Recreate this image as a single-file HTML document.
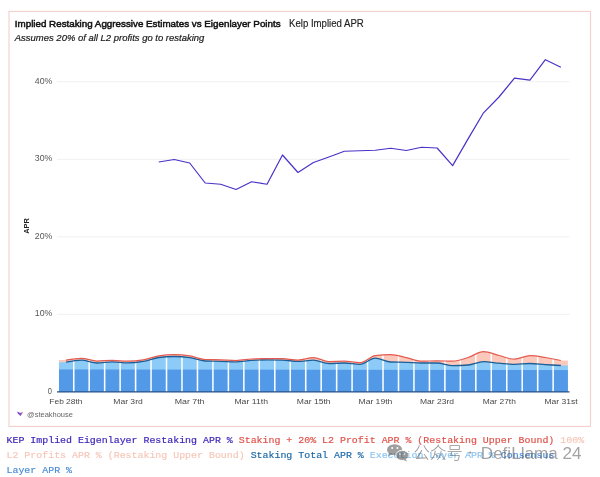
<!DOCTYPE html>
<html><head><meta charset="utf-8">
<style>
html,body{margin:0;padding:0;background:#fff;width:600px;height:477px;overflow:hidden}
svg{position:absolute;left:0;top:0;display:block;will-change:transform}
.t{font-family:"Liberation Sans",sans-serif}
.m{font-family:"Liberation Mono",monospace}
.cjk{font-family:"Liberation Sans","Noto Sans CJK SC",sans-serif}
</style></head><body>
<svg width="600" height="477" viewBox="0 0 600 477">
<rect x="9" y="11.4" width="581.5" height="415" fill="#fff" stroke="#f3d0cd" stroke-width="1.15"/>
<text class="t" x="14.8" y="26.8" font-size="9.7" fill="#111" stroke="#111" stroke-width="0.5" textLength="265.8" lengthAdjust="spacingAndGlyphs">Implied Restaking Aggressive Estimates vs Eigenlayer Points</text>
<text class="t" x="289" y="26.8" font-size="10" fill="#1e1e1e" stroke="#1e1e1e" stroke-width="0.15" textLength="74.8" lengthAdjust="spacingAndGlyphs">Kelp Implied APR</text>
<text class="t" x="14.8" y="40.7" font-size="9.7" font-style="italic" fill="#1a1a1a" stroke="#1a1a1a" stroke-width="0.2" textLength="189.5" lengthAdjust="spacingAndGlyphs">Assumes 20% of all L2 profits go to restaking</text>
<g stroke="#f0f0f0" stroke-width="1"><line x1="57" y1="314.30" x2="569.5" y2="314.30"/><line x1="57" y1="236.80" x2="569.5" y2="236.80"/><line x1="57" y1="159.30" x2="569.5" y2="159.30"/><line x1="57" y1="81.80" x2="569.5" y2="81.80"/></g>
<g class="t" font-size="8.5" fill="#555" text-anchor="end"><text x="52.4" y="316.40" textLength="17.6" lengthAdjust="spacingAndGlyphs">10%</text><text x="52.4" y="238.90" textLength="17.6" lengthAdjust="spacingAndGlyphs">20%</text><text x="52.4" y="161.40" textLength="17.6" lengthAdjust="spacingAndGlyphs">30%</text><text x="52.4" y="83.90" textLength="17.6" lengthAdjust="spacingAndGlyphs">40%</text><text x="52" y="393.90" textLength="4.2" lengthAdjust="spacingAndGlyphs">0</text></g>
<text class="t" transform="translate(29.3,226) rotate(-90)" font-size="8" font-weight="bold" fill="#222" text-anchor="middle" textLength="15.5" lengthAdjust="spacingAndGlyphs">APR</text>
<path d="M59.00,391.80 L59.00,360.10 L65.98,360.10 C71.14,359.20 76.29,358.30 81.45,358.30 C86.60,358.30 91.76,361.00 96.91,361.00 C102.07,361.00 107.22,360.40 112.38,360.40 C117.53,360.40 122.69,361.20 127.84,361.20 C133.00,361.20 138.15,360.68 143.31,359.80 C148.46,358.92 153.62,356.77 158.77,355.90 C163.93,355.03 169.08,354.60 174.24,354.60 C179.39,354.60 184.55,355.08 189.70,355.90 C194.86,356.72 200.01,359.30 205.17,359.50 C210.32,359.70 215.48,359.63 220.63,359.80 C225.79,359.97 230.94,360.50 236.10,360.50 C241.25,360.50 246.41,359.33 251.56,359.00 C256.72,358.67 261.87,358.50 267.03,358.50 C272.18,358.50 277.34,358.57 282.49,358.70 C287.65,358.83 292.80,360.00 297.96,360.00 C303.11,360.00 308.27,357.70 313.42,357.70 C318.58,357.70 323.73,361.50 328.89,361.50 C334.04,361.50 339.20,361.20 344.35,361.20 C349.51,361.20 354.66,362.70 359.82,362.70 C364.97,362.70 370.13,356.50 375.28,355.70 C380.44,354.90 385.59,354.50 390.75,354.50 C395.90,354.50 401.06,356.58 406.21,357.70 C411.37,358.82 416.52,361.20 421.68,361.20 C426.83,361.20 431.99,360.80 437.14,360.80 C442.30,360.80 447.45,361.20 452.61,361.20 C457.76,361.20 462.92,359.08 468.07,357.50 C473.23,355.92 478.38,351.70 483.54,351.70 C488.69,351.70 493.85,354.25 499.00,355.50 C504.16,356.75 509.31,359.20 514.47,359.20 C519.62,359.20 524.78,355.70 529.93,355.70 C535.09,355.70 540.24,356.70 545.40,357.50 C550.55,358.30 555.71,359.40 560.86,360.50 L567.85,360.50 L567.85,391.80 Z" fill="#fbc9bb"/>
<path d="M59.00,391.80 L59.00,362.20 L65.98,362.20 C71.14,361.15 76.29,360.10 81.45,360.10 C86.60,360.10 91.76,363.00 96.91,363.00 C102.07,363.00 107.22,361.90 112.38,361.90 C117.53,361.90 122.69,362.90 127.84,362.90 C133.00,362.90 138.15,362.30 143.31,361.40 C148.46,360.50 153.62,358.17 158.77,357.50 C163.93,356.83 169.08,356.50 174.24,356.50 C179.39,356.50 184.55,356.87 189.70,357.60 C194.86,358.33 200.01,360.80 205.17,361.00 C210.32,361.20 215.48,361.15 220.63,361.30 C225.79,361.45 230.94,361.90 236.10,361.90 C241.25,361.90 246.41,360.57 251.56,360.30 C256.72,360.03 261.87,359.90 267.03,359.90 C272.18,359.90 277.34,359.97 282.49,360.10 C287.65,360.23 292.80,361.40 297.96,361.40 C303.11,361.40 308.27,360.20 313.42,360.20 C318.58,360.20 323.73,363.50 328.89,363.50 C334.04,363.50 339.20,363.00 344.35,363.00 C349.51,363.00 354.66,364.40 359.82,364.40 C364.97,364.40 370.13,358.20 375.28,358.20 C380.44,358.20 385.59,361.80 390.75,362.00 C395.90,362.20 401.06,362.13 406.21,362.30 C411.37,362.47 416.52,363.00 421.68,363.00 C426.83,363.00 431.99,363.00 437.14,363.00 C442.30,363.00 447.45,365.60 452.61,365.60 C457.76,365.60 462.92,365.40 468.07,365.00 C473.23,364.60 478.38,361.70 483.54,361.70 C488.69,361.70 493.85,362.75 499.00,363.20 C504.16,363.65 509.31,364.40 514.47,364.40 C519.62,364.40 524.78,363.50 529.93,363.50 C535.09,363.50 540.24,364.27 545.40,364.60 C550.55,364.93 555.71,365.22 560.86,365.50 L567.85,365.50 L567.85,391.80 Z" fill="#8ccbf8"/>
<g fill="#5299e8"><rect x="59.00" y="369.45" width="15.48" height="22.35"/><rect x="74.47" y="369.47" width="15.48" height="22.33"/><rect x="89.93" y="369.49" width="15.48" height="22.31"/><rect x="105.39" y="369.51" width="15.48" height="22.29"/><rect x="120.86" y="369.52" width="15.48" height="22.28"/><rect x="136.32" y="369.54" width="15.48" height="22.26"/><rect x="151.79" y="369.56" width="15.48" height="22.24"/><rect x="167.25" y="369.58" width="15.48" height="22.22"/><rect x="182.72" y="369.60" width="15.48" height="22.20"/><rect x="198.19" y="369.62" width="15.48" height="22.18"/><rect x="213.65" y="369.64" width="15.48" height="22.16"/><rect x="229.12" y="369.66" width="15.48" height="22.14"/><rect x="244.58" y="369.68" width="15.48" height="22.13"/><rect x="260.04" y="369.69" width="15.48" height="22.11"/><rect x="275.51" y="369.71" width="15.48" height="22.09"/><rect x="290.98" y="369.73" width="15.48" height="22.07"/><rect x="306.44" y="369.75" width="15.48" height="22.05"/><rect x="321.90" y="369.77" width="15.48" height="22.03"/><rect x="337.37" y="369.79" width="15.48" height="22.01"/><rect x="352.83" y="369.81" width="15.48" height="21.99"/><rect x="368.30" y="369.82" width="15.48" height="21.98"/><rect x="383.76" y="369.84" width="15.48" height="21.96"/><rect x="399.23" y="369.86" width="15.48" height="21.94"/><rect x="414.69" y="369.88" width="15.48" height="21.92"/><rect x="430.16" y="369.90" width="15.48" height="21.90"/><rect x="445.62" y="369.92" width="15.48" height="21.88"/><rect x="461.09" y="369.94" width="15.48" height="21.86"/><rect x="476.56" y="369.96" width="15.48" height="21.84"/><rect x="492.02" y="369.97" width="15.48" height="21.83"/><rect x="507.49" y="369.99" width="15.48" height="21.81"/><rect x="522.95" y="370.01" width="15.48" height="21.79"/><rect x="538.41" y="370.03" width="15.48" height="21.77"/><rect x="553.88" y="370.05" width="13.98" height="21.75"/></g>
<g fill="#fff"><rect x="72.97" y="345" width="1.5" height="46.80"/><rect x="88.43" y="345" width="1.5" height="46.80"/><rect x="103.89" y="345" width="1.5" height="46.80"/><rect x="119.36" y="345" width="1.5" height="46.80"/><rect x="134.82" y="345" width="1.5" height="46.80"/><rect x="150.29" y="345" width="1.5" height="46.80"/><rect x="165.75" y="345" width="1.5" height="46.80"/><rect x="181.22" y="345" width="1.5" height="46.80"/><rect x="196.69" y="345" width="1.5" height="46.80"/><rect x="212.15" y="345" width="1.5" height="46.80"/><rect x="227.62" y="345" width="1.5" height="46.80"/><rect x="243.08" y="345" width="1.5" height="46.80"/><rect x="258.54" y="345" width="1.5" height="46.80"/><rect x="274.01" y="345" width="1.5" height="46.80"/><rect x="289.48" y="345" width="1.5" height="46.80"/><rect x="304.94" y="345" width="1.5" height="46.80"/><rect x="320.40" y="345" width="1.5" height="46.80"/><rect x="335.87" y="345" width="1.5" height="46.80"/><rect x="351.33" y="345" width="1.5" height="46.80"/><rect x="366.80" y="345" width="1.5" height="46.80"/><rect x="382.26" y="345" width="1.5" height="46.80"/><rect x="397.73" y="345" width="1.5" height="46.80"/><rect x="413.19" y="345" width="1.5" height="46.80"/><rect x="428.66" y="345" width="1.5" height="46.80"/><rect x="444.12" y="345" width="1.5" height="46.80"/><rect x="459.59" y="345" width="1.5" height="46.80"/><rect x="475.06" y="345" width="1.5" height="46.80"/><rect x="490.52" y="345" width="1.5" height="46.80"/><rect x="505.99" y="345" width="1.5" height="46.80"/><rect x="521.45" y="345" width="1.5" height="46.80"/><rect x="536.91" y="345" width="1.5" height="46.80"/><rect x="552.38" y="345" width="1.5" height="46.80"/></g>
<path d="M65.98,362.20 C71.14,361.15 76.29,360.10 81.45,360.10 C86.60,360.10 91.76,363.00 96.91,363.00 C102.07,363.00 107.22,361.90 112.38,361.90 C117.53,361.90 122.69,362.90 127.84,362.90 C133.00,362.90 138.15,362.30 143.31,361.40 C148.46,360.50 153.62,358.17 158.77,357.50 C163.93,356.83 169.08,356.50 174.24,356.50 C179.39,356.50 184.55,356.87 189.70,357.60 C194.86,358.33 200.01,360.80 205.17,361.00 C210.32,361.20 215.48,361.15 220.63,361.30 C225.79,361.45 230.94,361.90 236.10,361.90 C241.25,361.90 246.41,360.57 251.56,360.30 C256.72,360.03 261.87,359.90 267.03,359.90 C272.18,359.90 277.34,359.97 282.49,360.10 C287.65,360.23 292.80,361.40 297.96,361.40 C303.11,361.40 308.27,360.20 313.42,360.20 C318.58,360.20 323.73,363.50 328.89,363.50 C334.04,363.50 339.20,363.00 344.35,363.00 C349.51,363.00 354.66,364.40 359.82,364.40 C364.97,364.40 370.13,358.20 375.28,358.20 C380.44,358.20 385.59,361.80 390.75,362.00 C395.90,362.20 401.06,362.13 406.21,362.30 C411.37,362.47 416.52,363.00 421.68,363.00 C426.83,363.00 431.99,363.00 437.14,363.00 C442.30,363.00 447.45,365.60 452.61,365.60 C457.76,365.60 462.92,365.40 468.07,365.00 C473.23,364.60 478.38,361.70 483.54,361.70 C488.69,361.70 493.85,362.75 499.00,363.20 C504.16,363.65 509.31,364.40 514.47,364.40 C519.62,364.40 524.78,363.50 529.93,363.50 C535.09,363.50 540.24,364.27 545.40,364.60 C550.55,364.93 555.71,365.22 560.86,365.50" fill="none" stroke="#1c5e96" stroke-width="1.3"/>
<path d="M65.98,360.10 C71.14,359.20 76.29,358.30 81.45,358.30 C86.60,358.30 91.76,361.00 96.91,361.00 C102.07,361.00 107.22,360.40 112.38,360.40 C117.53,360.40 122.69,361.20 127.84,361.20 C133.00,361.20 138.15,360.68 143.31,359.80 C148.46,358.92 153.62,356.77 158.77,355.90 C163.93,355.03 169.08,354.60 174.24,354.60 C179.39,354.60 184.55,355.08 189.70,355.90 C194.86,356.72 200.01,359.30 205.17,359.50 C210.32,359.70 215.48,359.63 220.63,359.80 C225.79,359.97 230.94,360.50 236.10,360.50 C241.25,360.50 246.41,359.33 251.56,359.00 C256.72,358.67 261.87,358.50 267.03,358.50 C272.18,358.50 277.34,358.57 282.49,358.70 C287.65,358.83 292.80,360.00 297.96,360.00 C303.11,360.00 308.27,357.70 313.42,357.70 C318.58,357.70 323.73,361.50 328.89,361.50 C334.04,361.50 339.20,361.20 344.35,361.20 C349.51,361.20 354.66,362.70 359.82,362.70 C364.97,362.70 370.13,356.50 375.28,355.70 C380.44,354.90 385.59,354.50 390.75,354.50 C395.90,354.50 401.06,356.58 406.21,357.70 C411.37,358.82 416.52,361.20 421.68,361.20 C426.83,361.20 431.99,360.80 437.14,360.80 C442.30,360.80 447.45,361.20 452.61,361.20 C457.76,361.20 462.92,359.08 468.07,357.50 C473.23,355.92 478.38,351.70 483.54,351.70 C488.69,351.70 493.85,354.25 499.00,355.50 C504.16,356.75 509.31,359.20 514.47,359.20 C519.62,359.20 524.78,355.70 529.93,355.70 C535.09,355.70 540.24,356.70 545.40,357.50 C550.55,358.30 555.71,359.40 560.86,360.50" fill="none" stroke="#e35a4f" stroke-width="1.25"/>
<line x1="57" y1="391.80" x2="569.5" y2="391.80" stroke="#244f86" stroke-width="1.2"/>
<path d="M158.77,162.00 L174.24,159.50 L189.70,163.00 L205.17,183.00 L220.63,184.25 L236.10,189.50 L251.56,181.75 L267.03,184.25 L282.49,155.00 L297.96,172.50 L313.42,162.50 L328.89,157.00 L344.35,151.25 L359.82,150.75 L375.28,150.25 L390.75,148.25 L406.21,150.50 L421.68,147.25 L437.14,148.00 L452.61,165.60 L468.07,138.90 L483.54,112.80 L499.00,97.00 L514.47,78.20 L529.93,80.20 L545.40,59.70 L560.86,67.30" fill="none" stroke="#4b31c8" stroke-width="1.2" stroke-linejoin="round"/>
<g class="t" font-size="8.1" fill="#484848"><text x="49.35" y="404.2" textLength="33.10" lengthAdjust="spacingAndGlyphs">Feb 28th</text><text x="113.25" y="404.2" textLength="29.50" lengthAdjust="spacingAndGlyphs">Mar 3rd</text><text x="174.70" y="404.2" textLength="29.80" lengthAdjust="spacingAndGlyphs">Mar 7th</text><text x="234.40" y="404.2" textLength="33.60" lengthAdjust="spacingAndGlyphs">Mar 11th</text><text x="296.85" y="404.2" textLength="33.70" lengthAdjust="spacingAndGlyphs">Mar 15th</text><text x="358.50" y="404.2" textLength="33.80" lengthAdjust="spacingAndGlyphs">Mar 19th</text><text x="420.00" y="404.2" textLength="34.00" lengthAdjust="spacingAndGlyphs">Mar 23rd</text><text x="482.70" y="404.2" textLength="33.20" lengthAdjust="spacingAndGlyphs">Mar 27th</text><text x="544.40" y="404.2" textLength="33.20" lengthAdjust="spacingAndGlyphs">Mar 31st</text></g>
<defs><linearGradient id="sg" x1="0" x2="1" y1="0" y2="0"><stop offset="0" stop-color="#6a3fd6"/><stop offset="0.55" stop-color="#8a4cc8"/><stop offset="1" stop-color="#b89090"/></linearGradient></defs>
<path d="M17.2,411.6 L20.2,413 L23,411.7 L22.4,413.4 L20.4,416 L17.8,413.4 Z" fill="url(#sg)"/>
<text class="t" x="27.1" y="416.7" font-size="7.5" fill="#666" textLength="45.8" lengthAdjust="spacingAndGlyphs">@steakhouse</text>
<g class="m" font-size="9.93" stroke-width="0.18">
<text x="6.5" y="443"><tspan fill="#3a1fb8" stroke="#3a1fb8">KEP Implied Eigenlayer Restaking APR %</tspan> <tspan fill="#e0524a" stroke="#e0524a">Staking + 20% L2 Profit APR % (Restaking Upper Bound)</tspan> <tspan fill="#f6c6b8" stroke="#f6c6b8">100%</tspan></text>
<text x="6.5" y="458"><tspan fill="#f6c6b8" stroke="#f6c6b8">L2 Profits APR % (Restaking Upper Bound)</tspan> <tspan fill="#1d69a8" stroke="#1d69a8">Staking Total APR %</tspan> <tspan fill="#8cc4f0" stroke="#8cc4f0">Execution Layer APR %</tspan> <tspan fill="#4a8bd8" stroke="#4a8bd8">Consensus</tspan></text>
<text x="6.5" y="473"><tspan fill="#4a8bd8" stroke="#4a8bd8">Layer APR %</tspan></text>
</g>
<g opacity="0.55">
<ellipse cx="394.6" cy="449.7" rx="7.6" ry="5.5" fill="#505050"/>
<path d="M389.5,452.5 L388.6,456.3 L392.6,454 Z" fill="#464646"/>
<circle cx="392.2" cy="448.1" r="1" fill="#fff"/>
<circle cx="397.4" cy="448.1" r="1" fill="#fff"/>
<ellipse cx="402.2" cy="455.4" rx="6.4" ry="5.1" fill="#464646" stroke="#fff" stroke-width="0.9"/>
<path d="M405.5,458.8 L407,461.5 L403.6,460 Z" fill="#464646"/>
<circle cx="400" cy="454" r="0.8" fill="#fff"/>
<circle cx="404.4" cy="454" r="0.8" fill="#fff"/>
<text class="cjk" x="413.6" y="459.1" font-size="17" font-weight="300" fill="#333" textLength="49.3" lengthAdjust="spacingAndGlyphs">公众号</text>
<circle cx="470.2" cy="452.5" r="1.1" fill="#333"/>
<text class="t" x="480.8" y="459" font-size="16.2" fill="#585858" textLength="100.6" lengthAdjust="spacingAndGlyphs">DefiLlama 24</text>
</g>
</svg>
</body></html>
